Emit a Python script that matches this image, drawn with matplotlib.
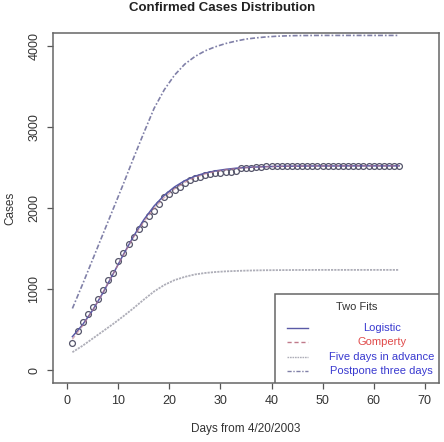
import numpy as np
import matplotlib
matplotlib.use("Agg")
import matplotlib.pyplot as plt
from matplotlib.patches import Rectangle

plt.rcParams['font.family'] = ['Liberation Sans', 'DejaVu Sans']

# Observed confirmed cases (day 1..65 from 4/20/2003)
obs_days = list(range(1, 66))
observed = [339, 482, 588, 693, 774, 877, 988, 1114, 1199, 1347,
            1440, 1553, 1636, 1741, 1803, 1897, 1960, 2049, 2136, 2177,
            2227, 2265, 2304, 2347, 2370, 2388, 2405, 2420, 2434, 2437,
            2444, 2444, 2454, 2489, 2490, 2499, 2504, 2512, 2514, 2517,
            2520, 2521, 2522, 2522, 2522, 2522, 2522, 2523, 2522, 2523,
            2523, 2523, 2523, 2522, 2522, 2523, 2523, 2523, 2523, 2522,
            2521, 2521, 2521, 2521, 2521]

# Fitted curves, read at odd days 1..65
fit_days = list(range(1, 66, 2))
logistic = [412, 560, 741, 955, 1189, 1427, 1654, 1856, 2024, 2158,
            2260, 2337, 2392, 2431, 2458, 2477, 2491, 2500, 2506, 2511,
            2514, 2516, 2517, 2518, 2519, 2519, 2519, 2520, 2520, 2520,
            2520, 2520, 2520]
gompertz = [380, 545, 740, 960, 1190, 1420, 1640, 1830, 1995, 2130,
            2235, 2315, 2375, 2420, 2450, 2472, 2487, 2498, 2505, 2510,
            2513, 2515, 2517, 2518, 2519, 2519, 2520, 2520, 2520, 2520,
            2520, 2520, 2520]
five_days_advance = [220, 300, 390, 480, 570, 665, 765, 870, 970, 1050,
                     1110, 1150, 1180, 1198, 1210, 1218, 1223, 1227, 1230, 1232,
                     1233, 1234, 1235, 1235, 1236, 1236, 1236, 1236, 1236, 1236,
                     1236, 1236, 1236]
postpone_three = [760, 1060, 1370, 1680, 1990, 2300, 2620, 2930, 3230, 3460,
                  3640, 3775, 3870, 3940, 3990, 4030, 4060, 4085, 4100, 4112,
                  4120, 4125, 4128, 4129, 4130, 4130, 4130, 4130, 4130, 4130,
                  4130, 4130, 4130]

legend_labels = ["Logistic", "Gomperty", "Five days in advance", "Postpone three days"]
legend_text_colors = ["#3a3ad0", "#e04a4a", "#3a3ad0", "#3a3ad0"]

x_ticks = [0, 10, 20, 30, 40, 50, 60, 70]
y_ticks = [0, 1000, 2000, 3000, 4000]

fig = plt.figure(figsize=(4.44, 4.42), dpi=100)
ax = fig.add_axes([53/444, 1 - 383/442, 386/444, 350/442])

c_log = "#5a5aa6"
c_gom = "#c07a8a"
c_five = "#aeaeb8"
c_post = "#8080a8"

ax.plot(fit_days, postpone_three, color=c_post, lw=1.2, ls=(0, (3, 1.2, 1, 1.2)))
ax.plot(fit_days, five_days_advance, color=c_five, lw=1.3, ls=(0, (1.2, 0.6)))
ax.plot(obs_days, observed, ls='none', marker='o', ms=4.2, mfc='none',
        mec='#55556a', mew=0.9)
ax.plot(fit_days, logistic, color=c_log, lw=1.1)
ax.plot(fit_days, gompertz, color=c_gom, lw=1.0, ls=(0, (3, 2)), alpha=0.6)

ax.set_xlim(-2.8, 72.8)
ax.set_ylim(-160, 4160)
ax.set_xticks(x_ticks)
ax.set_yticks(y_ticks)
ax.set_xticklabels([str(v) for v in x_ticks])
ax.set_yticklabels([str(v) for v in y_ticks], rotation=90, va='center')
ax.tick_params(axis='both', direction='out', length=4, width=0.9,
               color='#555555', labelsize=9, labelcolor='#333333', pad=5)
for s in ax.spines.values():
    s.set_color('#666666')
    s.set_linewidth(1.1)

ax.set_xlabel("Days from 4/20/2003", fontsize=8.5, color='#333333', labelpad=11)
ax.set_ylabel("Cases", fontsize=8.5, color='#333333', labelpad=9)
fig.text(0.5, 1 - 8/442, "Confirmed Cases Distribution", ha='center', va='center',
         fontsize=9.5, fontweight='bold', color='#222222')

# Legend (bottom right, drawn R-style)
lx0 = (275 - 53) / 386
ly1 = (383 - 294) / 350
ax.add_patch(Rectangle((lx0, 0), 1 - lx0, ly1, transform=ax.transAxes,
                       facecolor='white', edgecolor='#666666', lw=1.1, zorder=5))
ax.text(0.788, 0.217, "Two Fits", transform=ax.transAxes, ha='center', va='center',
        fontsize=8, color='#333333', zorder=6)
rows_y = [0.157, 0.117, 0.074, 0.034]
styles = [dict(color=c_log, ls='-'), dict(color=c_gom, ls=(0, (3, 2))),
          dict(color=c_five, ls=(0, (1.2, 0.6))), dict(color=c_post, ls=(0, (3, 1.2, 1, 1.2)))]
for yy, lab, tc, st in zip(rows_y, legend_labels, legend_text_colors, styles):
    ax.plot([0.606, 0.661], [yy, yy], transform=ax.transAxes, lw=1.0, zorder=6, **st)
    ax.text(0.852, yy, lab, transform=ax.transAxes, ha='center', va='center',
            fontsize=8, color=tc, zorder=6)

fig.savefig("out.png", dpi=100)
